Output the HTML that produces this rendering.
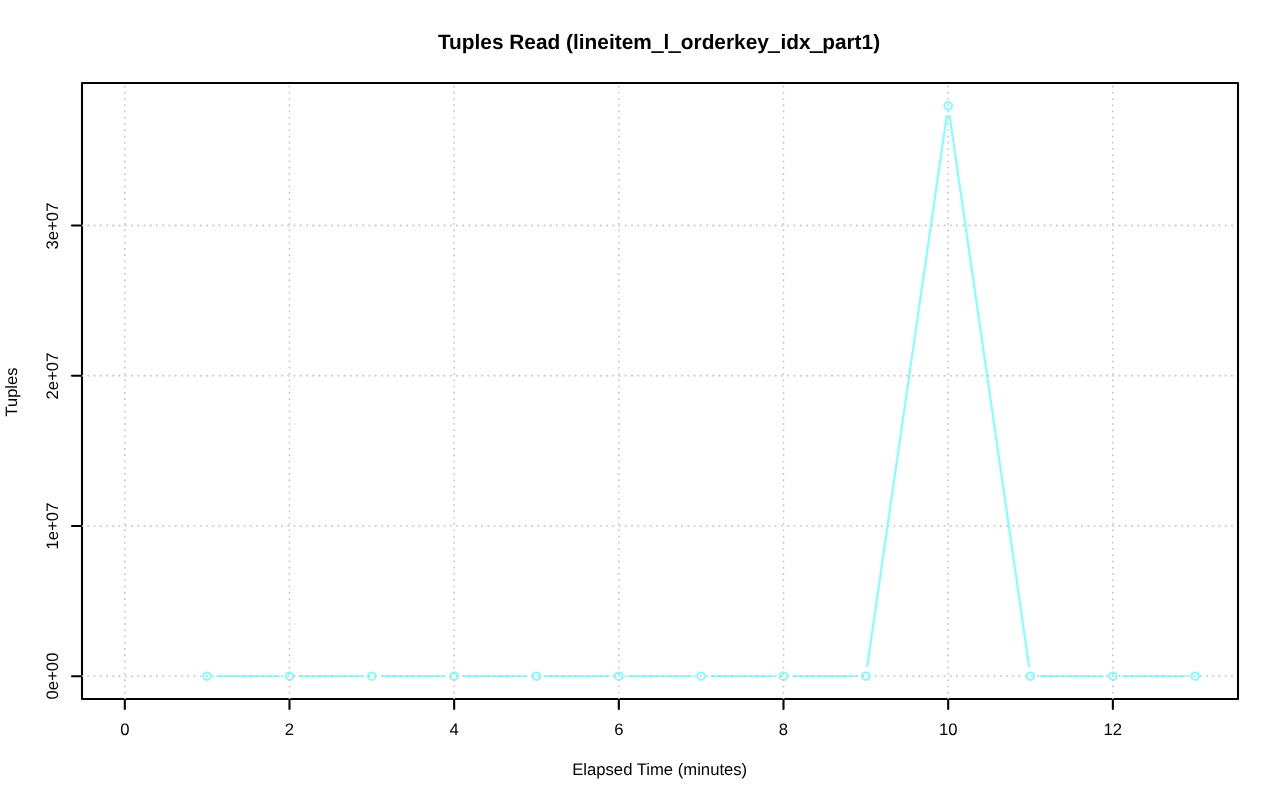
<!DOCTYPE html>
<html><head><meta charset="utf-8"><title>Tuples Read</title>
<style>
html,body{margin:0;padding:0;background:#fff;}
body{width:1280px;height:801px;position:relative;overflow:hidden;font-family:"Liberation Sans",sans-serif;color:#000;}
.t{position:absolute;text-rendering:geometricPrecision;white-space:nowrap;font-size:16.67px;line-height:20px;}
.t i{font-style:normal;color:transparent;}
.xl{width:100px;text-align:center;}
.yl{width:100px;height:20px;text-align:center;transform:rotate(-90deg);transform-origin:50% 50%;}
</style></head><body>
<svg width="1280" height="801" viewBox="0 0 1280 801" style="position:absolute;left:0;top:0">
<line x1="217.15" y1="676.19" x2="279.49" y2="676.19" stroke="#7FFFFF" stroke-width="2.08" stroke-linecap="round"/>
<line x1="299.49" y1="676.19" x2="361.82" y2="676.19" stroke="#7FFFFF" stroke-width="2.08" stroke-linecap="round"/>
<line x1="381.82" y1="676.19" x2="444.16" y2="676.19" stroke="#7FFFFF" stroke-width="2.08" stroke-linecap="round"/>
<line x1="464.16" y1="676.19" x2="526.50" y2="676.19" stroke="#7FFFFF" stroke-width="2.08" stroke-linecap="round"/>
<line x1="546.50" y1="676.19" x2="608.83" y2="676.19" stroke="#7FFFFF" stroke-width="2.08" stroke-linecap="round"/>
<line x1="628.83" y1="676.19" x2="691.17" y2="676.19" stroke="#7FFFFF" stroke-width="2.08" stroke-linecap="round"/>
<line x1="711.17" y1="676.19" x2="773.50" y2="676.19" stroke="#7FFFFF" stroke-width="2.08" stroke-linecap="round"/>
<line x1="793.50" y1="676.19" x2="855.84" y2="676.19" stroke="#7FFFFF" stroke-width="2.08" stroke-linecap="round"/>
<line x1="867.27" y1="666.29" x2="946.75" y2="115.71" stroke="#7FFFFF" stroke-width="2.08" stroke-linecap="round"/>
<line x1="949.61" y1="115.71" x2="1029.08" y2="666.29" stroke="#7FFFFF" stroke-width="2.08" stroke-linecap="round"/>
<line x1="1040.51" y1="676.19" x2="1102.85" y2="676.19" stroke="#7FFFFF" stroke-width="2.08" stroke-linecap="round"/>
<line x1="1122.85" y1="676.19" x2="1185.19" y2="676.19" stroke="#7FFFFF" stroke-width="2.08" stroke-linecap="round"/>
<circle cx="207.15" cy="676.19" r="3.75" fill="none" stroke="#7FFFFF" stroke-width="2.08"/>
<circle cx="289.49" cy="676.19" r="3.75" fill="none" stroke="#7FFFFF" stroke-width="2.08"/>
<circle cx="371.82" cy="676.19" r="3.75" fill="none" stroke="#7FFFFF" stroke-width="2.08"/>
<circle cx="454.16" cy="676.19" r="3.75" fill="none" stroke="#7FFFFF" stroke-width="2.08"/>
<circle cx="536.50" cy="676.19" r="3.75" fill="none" stroke="#7FFFFF" stroke-width="2.08"/>
<circle cx="618.83" cy="676.19" r="3.75" fill="none" stroke="#7FFFFF" stroke-width="2.08"/>
<circle cx="701.17" cy="676.19" r="3.75" fill="none" stroke="#7FFFFF" stroke-width="2.08"/>
<circle cx="783.50" cy="676.19" r="3.75" fill="none" stroke="#7FFFFF" stroke-width="2.08"/>
<circle cx="865.84" cy="676.19" r="3.75" fill="none" stroke="#7FFFFF" stroke-width="2.08"/>
<circle cx="948.18" cy="105.81" r="3.75" fill="none" stroke="#7FFFFF" stroke-width="2.08"/>
<circle cx="1030.51" cy="676.19" r="3.75" fill="none" stroke="#7FFFFF" stroke-width="2.08"/>
<circle cx="1112.85" cy="676.19" r="3.75" fill="none" stroke="#7FFFFF" stroke-width="2.08"/>
<circle cx="1195.19" cy="676.19" r="3.75" fill="none" stroke="#7FFFFF" stroke-width="2.08"/>
<rect x="82.0" y="83.0" width="1156.0" height="616.0" fill="none" stroke="#000" stroke-width="2.08" stroke-linejoin="round"/>
<line x1="124.81" y1="699.0" x2="124.81" y2="83.0" stroke="#C6C6C6" stroke-width="1.8" stroke-dasharray="0.2 6.05" stroke-dashoffset="0.1" stroke-linecap="round"/>
<line x1="289.49" y1="699.0" x2="289.49" y2="83.0" stroke="#C6C6C6" stroke-width="1.8" stroke-dasharray="0.2 6.05" stroke-dashoffset="0.1" stroke-linecap="round"/>
<line x1="454.16" y1="699.0" x2="454.16" y2="83.0" stroke="#C6C6C6" stroke-width="1.8" stroke-dasharray="0.2 6.05" stroke-dashoffset="0.1" stroke-linecap="round"/>
<line x1="618.83" y1="699.0" x2="618.83" y2="83.0" stroke="#C6C6C6" stroke-width="1.8" stroke-dasharray="0.2 6.05" stroke-dashoffset="0.1" stroke-linecap="round"/>
<line x1="783.50" y1="699.0" x2="783.50" y2="83.0" stroke="#C6C6C6" stroke-width="1.8" stroke-dasharray="0.2 6.05" stroke-dashoffset="0.1" stroke-linecap="round"/>
<line x1="948.18" y1="699.0" x2="948.18" y2="83.0" stroke="#C6C6C6" stroke-width="1.8" stroke-dasharray="0.2 6.05" stroke-dashoffset="0.1" stroke-linecap="round"/>
<line x1="1112.85" y1="699.0" x2="1112.85" y2="83.0" stroke="#C6C6C6" stroke-width="1.8" stroke-dasharray="0.2 6.05" stroke-dashoffset="0.1" stroke-linecap="round"/>
<line x1="82.0" y1="676.19" x2="1238.0" y2="676.19" stroke="#C6C6C6" stroke-width="1.8" stroke-dasharray="0.2 6.05" stroke-dashoffset="0.1" stroke-linecap="round"/>
<line x1="82.0" y1="525.96" x2="1238.0" y2="525.96" stroke="#C6C6C6" stroke-width="1.8" stroke-dasharray="0.2 6.05" stroke-dashoffset="0.1" stroke-linecap="round"/>
<line x1="82.0" y1="375.73" x2="1238.0" y2="375.73" stroke="#C6C6C6" stroke-width="1.8" stroke-dasharray="0.2 6.05" stroke-dashoffset="0.1" stroke-linecap="round"/>
<line x1="82.0" y1="225.50" x2="1238.0" y2="225.50" stroke="#C6C6C6" stroke-width="1.8" stroke-dasharray="0.2 6.05" stroke-dashoffset="0.1" stroke-linecap="round"/>
<line x1="124.81" y1="700.0" x2="124.81" y2="709.0" stroke="#000" stroke-width="2.08" stroke-linecap="round"/>
<line x1="289.49" y1="700.0" x2="289.49" y2="709.0" stroke="#000" stroke-width="2.08" stroke-linecap="round"/>
<line x1="454.16" y1="700.0" x2="454.16" y2="709.0" stroke="#000" stroke-width="2.08" stroke-linecap="round"/>
<line x1="618.83" y1="700.0" x2="618.83" y2="709.0" stroke="#000" stroke-width="2.08" stroke-linecap="round"/>
<line x1="783.50" y1="700.0" x2="783.50" y2="709.0" stroke="#000" stroke-width="2.08" stroke-linecap="round"/>
<line x1="948.18" y1="700.0" x2="948.18" y2="709.0" stroke="#000" stroke-width="2.08" stroke-linecap="round"/>
<line x1="1112.85" y1="700.0" x2="1112.85" y2="709.0" stroke="#000" stroke-width="2.08" stroke-linecap="round"/>
<line x1="81.0" y1="676.19" x2="72.0" y2="676.19" stroke="#000" stroke-width="2.08" stroke-linecap="round"/>
<line x1="81.0" y1="525.96" x2="72.0" y2="525.96" stroke="#000" stroke-width="2.08" stroke-linecap="round"/>
<line x1="81.0" y1="375.73" x2="72.0" y2="375.73" stroke="#000" stroke-width="2.08" stroke-linecap="round"/>
<line x1="81.0" y1="225.50" x2="72.0" y2="225.50" stroke="#000" stroke-width="2.08" stroke-linecap="round"/>
<rect x="651.3" y="51.25" width="12.50" height="1.7" fill="#000"/>
<rect x="668.3" y="51.25" width="12.60" height="1.7" fill="#000"/>
<rect x="767.7" y="51.25" width="12.30" height="1.7" fill="#000"/>
<rect x="809.5" y="51.25" width="13.50" height="1.7" fill="#000"/>
</svg>
<div id="txt" style="position:absolute;left:0;top:0;width:1280px;height:801px;will-change:transform">
<div class="t" style="left:0;width:1280px;top:30.7px;text-align:center;font-weight:bold;font-size:20.85px;line-height:24px;left:19px">Tuples Read (lineitem<i>_</i>l<i>_</i>orderkey<i>_</i>idx<i>_</i>part1)</div>
<div class="t" style="left:0;width:1280px;top:760px;text-align:center;font-size:16.67px;line-height:20px;left:19.7px">Elapsed Time (minutes)</div>
<div class="t xl" style="left:74.81px;top:720px">0</div>
<div class="t xl" style="left:239.49px;top:720px">2</div>
<div class="t xl" style="left:404.16px;top:720px">4</div>
<div class="t xl" style="left:568.83px;top:720px">6</div>
<div class="t xl" style="left:733.50px;top:720px">8</div>
<div class="t xl" style="left:898.18px;top:720px">10</div>
<div class="t xl" style="left:1062.85px;top:720px">12</div>
<div class="t yl" style="left:3.00px;top:666.19px">0e+00</div>
<div class="t yl" style="left:3.00px;top:515.96px">1e+07</div>
<div class="t yl" style="left:3.00px;top:365.73px">2e+07</div>
<div class="t yl" style="left:3.00px;top:215.50px">3e+07</div>
<div class="t yl" style="left:-37.60px;top:381.50px;font-size:16.45px">Tuples</div>
</div>
</body></html>
